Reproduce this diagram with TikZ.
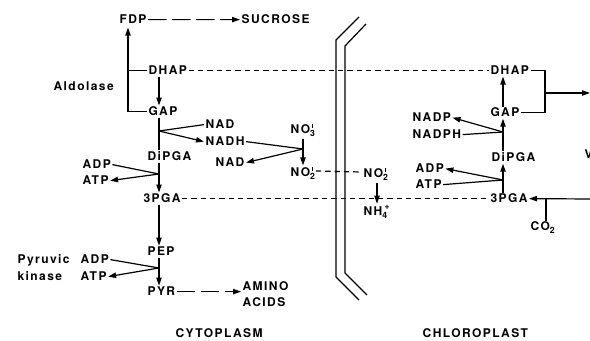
\documentclass[tikz,border=0pt]{standalone}
\usepackage{fontspec}
\setmainfont{TeX Gyre Heros}[LetterSpace=12]
\usetikzlibrary{arrows.meta,calc}
\newcommand\sbs[1]{\raisebox{-0.45ex}{\fontsize{6.5}{6}\selectfont #1}}
\newcommand\subsup[2]{\makebox[0pt][l]{\raisebox{-0.45ex}{\fontsize{6.5}{6}\selectfont #1}}\hspace{1.6pt}\raisebox{1.0ex}{\fontsize{6.5}{6}\selectfont #2}}
\newcommand\tick{\rule{0.75pt}{2.6pt}}
\begin{document}
\begin{tikzpicture}[x=0.75pt,y=-0.75pt,
  lab/.style={anchor=base west, inner sep=1pt, font=\fontsize{9}{10}\selectfont\bfseries},
  ln/.style={line width=0.9pt},
  tip/.style={-{Triangle[length=6pt,width=4pt]}},
  arr/.style={ln,tip},
  ldash/.style={ln, dash pattern=on 14pt off 4pt},
  sdash/.style={ln, dash pattern=on 4pt off 3pt}]
\useasboundingbox (0,0) rectangle (590,341);
% nodes
\node[lab] (FDP) at (118,24) {FDP};
\node[lab] (SUC) at (240,24) {SUCROSE};
\node[lab] (ald) at (52,91) {Aldolase};
\node[lab] (DHAPL) at (147,75) {DHAP};
\node[lab] (GAPL) at (147,116) {GAP};
\node[lab] (NADa) at (204,129) {NAD};
\node[lab] (NADH) at (204,146) {NADH};
\node[lab] (DiPGAL) at (146,161) {DiPGA};
\node[lab] (NO3) at (289,134) {NO\subsup{3}{\tick}};
\node[lab] (NADb) at (214,167) {NAD};
\node[lab] (NO2L) at (289,177) {NO\subsup{2}{\tick}};
\node[lab] (ADPa) at (81,169) {ADP};
\node[lab] (ATPa) at (81,185) {ATP};
\node[lab] (PGAL) at (142,203) {3PGA};
\node[lab] (NO2R) at (362,178) {NO\subsup{2}{\tick}};
\node[lab] (NH4) at (362,216) {NH\subsup{4}{+}};
\node[lab] (PEP) at (146,256) {PEP};
\node[lab] (pyr1) at (16,264) {Pyruvic};
\node[lab] (pyr2) at (16,281) {kinase};
\node[lab] (ADPb) at (79,264) {ADP};
\node[lab] (ATPb) at (79,281) {ATP};
\node[lab] (PYR) at (146,296) {PYR};
\node[lab] (AMINO) at (241,291) {AMINO};
\node[lab] (ACIDS) at (241,307) {ACIDS};
\node[lab] (CYT) at (174,338) {CYTOPLASM};
\node[lab] (CHL) at (421,338) {CHLOROPLAST};
\node[lab] (DHAPR) at (489,75) {DHAP};
\node[lab] (GAPR) at (489,117) {GAP};
\node[lab] (NADP) at (411,122) {NADP};
\node[lab] (NADPH) at (411,139) {NADPH};
\node[lab] (DiPGAR) at (490,162) {DiPGA};
\node[lab] (ADPR) at (414,173) {ADP};
\node[lab] (ATPR) at (414,189) {ATP};
\node[lab] (PGAR) at (489,203) {3PGA};
\node[lab] (CO2) at (529,231) {CO\sbs{2}};
\node[lab] (V) at (583,159) {V};
% coordinates
\coordinate (lx) at (128,0);
\coordinate (cx) at (159,0);
\coordinate (nx) at (303,0);
\coordinate (mx) at (377,0);
\coordinate (rx) at (503,0);
\coordinate (bx) at (545,0);
\coordinate (cox) at (546,0);
\coordinate (j1) at (159,131);
\coordinate (j2) at (303,149);
\coordinate (j3) at (159,174);
\coordinate (j4) at (159,268);
\coordinate (j5) at (503,132);
\coordinate (j6) at (503,180);
\coordinate (bm) at (545,93);
\coordinate (bend) at (590,93);
\coordinate (pe) at (590,199);
% cytoplasm connectors
\draw[ldash,tip] (FDP.east) -- (SUC.west);
\draw[arr] (GAPL.west) -- (GAPL.west -| lx) -- ($(FDP.south -| lx)+(0,2)$);
\draw[ln] (DHAPL.west) -- (DHAPL.west -| lx);
\draw[sdash] (DHAPL.east) -- (DHAPR.west);
\draw[arr] (DHAPL.south -| cx) -- (GAPL.north -| cx);
\draw[ln] (GAPL.south -| cx) -- (DiPGAL.north -| cx);
\draw[ln] (NADa.west) -- (j1);
\draw[arr] (j1) -- (NADH.west);
\draw[ln] (NADH.east) -- (j2);
\draw[arr] (j2) -- (NADb.east);
\draw[arr] (NO3.south -| nx) -- (NO2L.north -| nx);
\draw[sdash] ($(NO2L.base east)+(1,-6)$) -- ($(NO2R.base west)+(-1,-6)$);
\draw[arr] (NO2R.south -| mx) -- (NH4.north -| mx);
\draw[ln] (ADPa.east) -- (j3);
\draw[arr] (j3) -- (ATPa.east);
\draw[arr] (DiPGAL.south -| cx) -- (PGAL.north -| cx);
\draw[sdash] (PGAL.east) -- (PGAR.west);
\draw[arr] (PGAL.south -| cx) -- (PEP.north -| cx);
\draw[ln] (ADPb.east) -- (j4);
\draw[arr] (j4) -- (ATPb.east);
\draw[arr] (PEP.south -| cx) -- (PYR.north -| cx);
\draw[ldash,tip] (PYR.east) -- (PYR.east -| AMINO.west);
% membrane
\draw[ln] (359,17) -- (336,40) -- (336,277) -- (359,300);
\draw[ln] (366,24) -- (345,46) -- (345,273) -- (367,295);
% chloroplast connectors
\draw[ln] (DHAPR.east) -- (DHAPR.east -| bx) -- (GAPR.east -| bx) -- (GAPR.east);
\draw[arr] (bm) -- (bend);
\draw[arr] (GAPR.north -| rx) -- (DHAPR.south -| rx);
\draw[ln] (NADPH.east) -- (j5);
\draw[arr] (j5) -- (NADP.east);
\draw[arr] (DiPGAR.north -| rx) -- (GAPR.south -| rx);
\draw[ln] (ATPR.east) -- (j6);
\draw[arr] (j6) -- (ADPR.east);
\draw[arr] (PGAR.north -| rx) -- (DiPGAR.south -| rx);
\draw[arr] (pe) -- (PGAR.east);
\draw[ln] (CO2.north -| cox) -- (PGAR.east -| cox);
\end{tikzpicture}
\end{document}
